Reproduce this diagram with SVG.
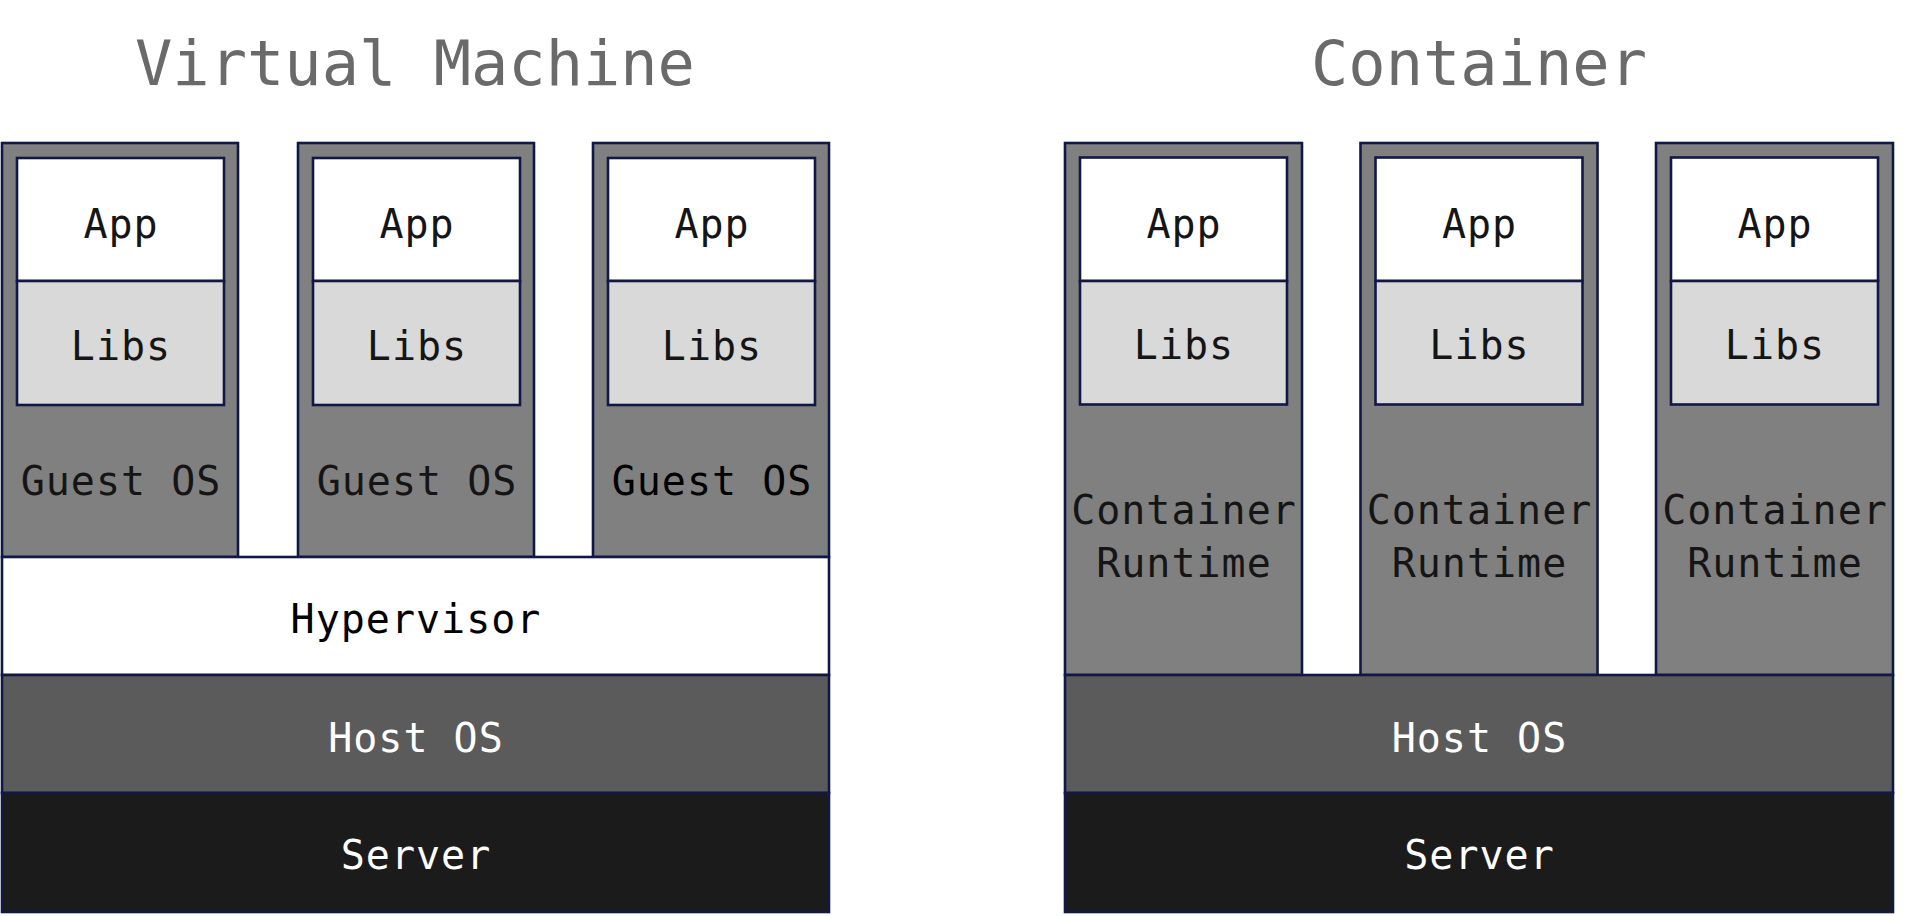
<svg xmlns="http://www.w3.org/2000/svg" width="1909" height="916" viewBox="0 0 1909 916">
<style>
.bg{fill:#ffffff}
rect{stroke:#121845;stroke-width:2.6}
.outer{fill:#808080}
.app{fill:#ffffff}
.libs{fill:#d9d9d9}
.hyp{fill:#ffffff}
.host{fill:#5b5b5b}
.server{fill:#1b1b1b}
text{font-family:"DejaVu Sans Mono","Liberation Mono",monospace;text-anchor:middle}
.title{font-size:62px;fill:#6a6a6a}
.lbl{font-size:40px;letter-spacing:1px;fill:#151515}
.lblw{font-size:40px;letter-spacing:1px;fill:#ffffff}
</style>
<rect class="bg" x="0" y="0" width="1909" height="916" style="stroke:none"/>
<g id="title-vm"><text class="title" x="415" y="85">Virtual Machine</text></g>
<g id="title-container"><text class="title" x="1479" y="85">Container</text></g>

<g id="vm1">
<rect class="outer" x="2" y="143" width="236" height="414"/>
<rect class="app" x="17" y="158" width="207" height="123"/>
<rect class="libs" x="17" y="281" width="207" height="124"/>
<text class="lbl" x="121" y="238">App</text>
<text class="lbl" x="121" y="359.5">Libs</text>
<text class="lbl" x="121" y="495">Guest OS</text>
</g>
<g id="vm2">
<rect class="outer" x="298" y="143" width="236" height="414"/>
<rect class="app" x="313" y="158" width="207" height="123"/>
<rect class="libs" x="313" y="281" width="207" height="124"/>
<text class="lbl" x="417" y="238">App</text>
<text class="lbl" x="417" y="359.5">Libs</text>
<text class="lbl" x="417" y="495">Guest OS</text>
</g>
<g id="vm3">
<rect class="outer" x="593" y="143" width="236" height="414"/>
<rect class="app" x="608" y="158" width="207" height="123"/>
<rect class="libs" x="608" y="281" width="207" height="124"/>
<text class="lbl" x="712" y="238">App</text>
<text class="lbl" x="712" y="359.5">Libs</text>
<text class="lbl" x="712" y="495" style="fill:#000">Guest OS</text>
</g>
<g id="hypervisor">
<rect class="hyp" x="2" y="557" width="827" height="118"/>
<text class="lbl" x="416" y="633" style="fill:#000">Hypervisor</text>
</g>
<g id="vm-host">
<rect class="host" x="2" y="675" width="827" height="118"/>
<text class="lblw" x="416" y="751.5">Host OS</text>
</g>
<g id="vm-server">
<rect class="server" x="2" y="793" width="827" height="119"/>
<text class="lblw" x="416" y="868.5">Server</text>
</g>

<g id="c1">
<rect class="outer" x="1065" y="143" width="237" height="532"/>
<rect class="app" x="1080" y="157.5" width="207" height="123.5"/>
<rect class="libs" x="1080" y="281" width="207" height="123.5"/>
<text class="lbl" x="1184" y="237.5">App</text>
<text class="lbl" x="1184" y="359">Libs</text>
<text class="lbl" x="1184" y="524">Container</text>
<text class="lbl" x="1184" y="576.5">Runtime</text>
</g>
<g id="c2">
<rect class="outer" x="1360.5" y="143" width="237" height="532"/>
<rect class="app" x="1375.5" y="157.5" width="207" height="123.5"/>
<rect class="libs" x="1375.5" y="281" width="207" height="123.5"/>
<text class="lbl" x="1479.5" y="237.5">App</text>
<text class="lbl" x="1479.5" y="359">Libs</text>
<text class="lbl" x="1479.5" y="524">Container</text>
<text class="lbl" x="1479.5" y="576.5">Runtime</text>
</g>
<g id="c3">
<rect class="outer" x="1656" y="143" width="237" height="532"/>
<rect class="app" x="1671" y="157.5" width="207" height="123.5"/>
<rect class="libs" x="1671" y="281" width="207" height="123.5"/>
<text class="lbl" x="1775" y="237.5">App</text>
<text class="lbl" x="1775" y="359">Libs</text>
<text class="lbl" x="1775" y="524">Container</text>
<text class="lbl" x="1775" y="576.5">Runtime</text>
</g>
<g id="c-host">
<rect class="host" x="1065" y="675" width="828" height="118"/>
<text class="lblw" x="1479.5" y="751.5">Host OS</text>
</g>
<g id="c-server">
<rect class="server" x="1065" y="793" width="828" height="119"/>
<text class="lblw" x="1479.5" y="868.5">Server</text>
</g>
<g id="connectors"></g>
</svg>
